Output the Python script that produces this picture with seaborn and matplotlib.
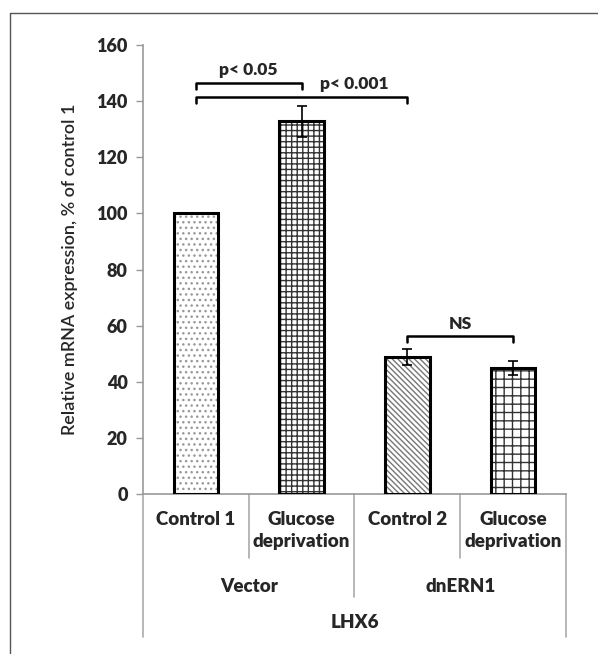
import matplotlib
matplotlib.use("Agg")
import matplotlib.pyplot as plt
import matplotlib.patches as mpatches
import pandas as pd
import seaborn as sns

# data
conditions = ["Control 1", "Glucose\ndeprivation", "Control 2", "Glucose\ndeprivation "]
groups = ["Vector", "dnERN1"]
gene = "LHX6"
expression = [100.0, 132.8, 48.8, 44.8]
errors = [0.0, 5.5, 2.8, 2.5]
hatches = ["...", "+++", "\\\\\\\\\\\\", "++"]
hatch_colors = ["#999999", "#333333", "#777777", "#333333"]

# significance brackets: (left bar, right bar, height, label, label x)
brackets = [(0, 1, 146.5, "p< 0.05", 0.5), (0, 2, 141.5, "p< 0.001", 1.5),
            (2, 3, 56.3, "NS", 2.5)]

df = pd.DataFrame({"condition": conditions, "expression": expression})

sns.set_style("white")
plt.rcParams["font.family"] = ["Lato", "DejaVu Sans"]
plt.rcParams["hatch.linewidth"] = 1.0
BOLD = "heavy"

fig = plt.figure(figsize=(5.98, 6.54), dpi=100)
ax = fig.add_axes([0.239, 0.2446, 0.7075, 0.6866])

sns.barplot(data=df, x="condition", y="expression", color="white",
            width=0.42, ax=ax, errorbar=None)

for i, patch in enumerate(ax.patches):
    patch.set_hatch(hatches[i])
    patch.set_edgecolor(hatch_colors[i])
    patch.set_linewidth(0)
    ax.add_patch(mpatches.Rectangle((patch.get_x(), 0), patch.get_width(),
                                    patch.get_height(), fill=False,
                                    edgecolor="black", linewidth=2.2, zorder=3))
    if errors[i] > 0:
        ax.errorbar(patch.get_x() + patch.get_width() / 2, patch.get_height(),
                    yerr=errors[i], color="black", capsize=3.5,
                    elinewidth=1.2, capthick=1.2, zorder=4)

# brackets
for a, b, h, label, lx in brackets:
    ax.plot([a, a, b, b], [h - 2.3, h, h, h - 2.3], color="black", lw=1.8,
            clip_on=False, zorder=5)
    ax.text(lx, h + 1.6, label, ha="center", va="bottom", fontsize=12.5,
            fontweight=BOLD)

ax.set_xlim(-0.5, 3.5)
ax.set_ylim(0, 160)
ax.set_yticks(range(0, 161, 20))
ax.tick_params(axis="y", labelsize=13, length=5, width=1, color="#999999",
               left=True, direction="out", pad=6)
for lbl in ax.get_yticklabels():
    lbl.set_fontweight(BOLD)
ax.set_xticks([])
ax.set_xlabel("")
ax.set_ylabel("Relative mRNA expression, % of control 1", fontsize=13,
              fontweight="semibold", labelpad=13)

sns.despine(ax=ax, top=True, right=True)
for side in ["left", "bottom"]:
    ax.spines[side].set_color("#999999")
    ax.spines[side].set_linewidth(1.2)

# multi-level category axis
trans = ax.get_xaxis_transform()
sep_lines = [(-0.5, -0.318), (0.5, -0.1425), (1.5, -0.229), (2.5, -0.1425), (3.5, -0.318)]
for x, y_end in sep_lines:
    ax.plot([x, x], [0, y_end], transform=trans, color="#aaaaaa", lw=1.2, clip_on=False)

for i, c in enumerate(conditions):
    ax.text(i, -0.038, c.strip(), transform=trans, ha="center", va="top",
            fontsize=13.5, fontweight=BOLD, linespacing=1.35)
for j, g in enumerate(groups):
    ax.text(2 * j + 0.5, -0.205, g, transform=trans, ha="center", va="center",
            fontsize=13.5, fontweight=BOLD)
ax.text(1.5, -0.287, gene, transform=trans, ha="center", va="center",
        fontsize=13.5, fontweight=BOLD)

# outer frame (top and left edges visible in the reference)
fig.add_artist(plt.Line2D([10 / 598, 10 / 598], [0, 1 - 13 / 654], color="#555555", lw=1))
fig.add_artist(plt.Line2D([10 / 598, 1], [1 - 13 / 654, 1 - 13 / 654], color="#555555", lw=1))

fig.savefig("out.png", dpi=100)
